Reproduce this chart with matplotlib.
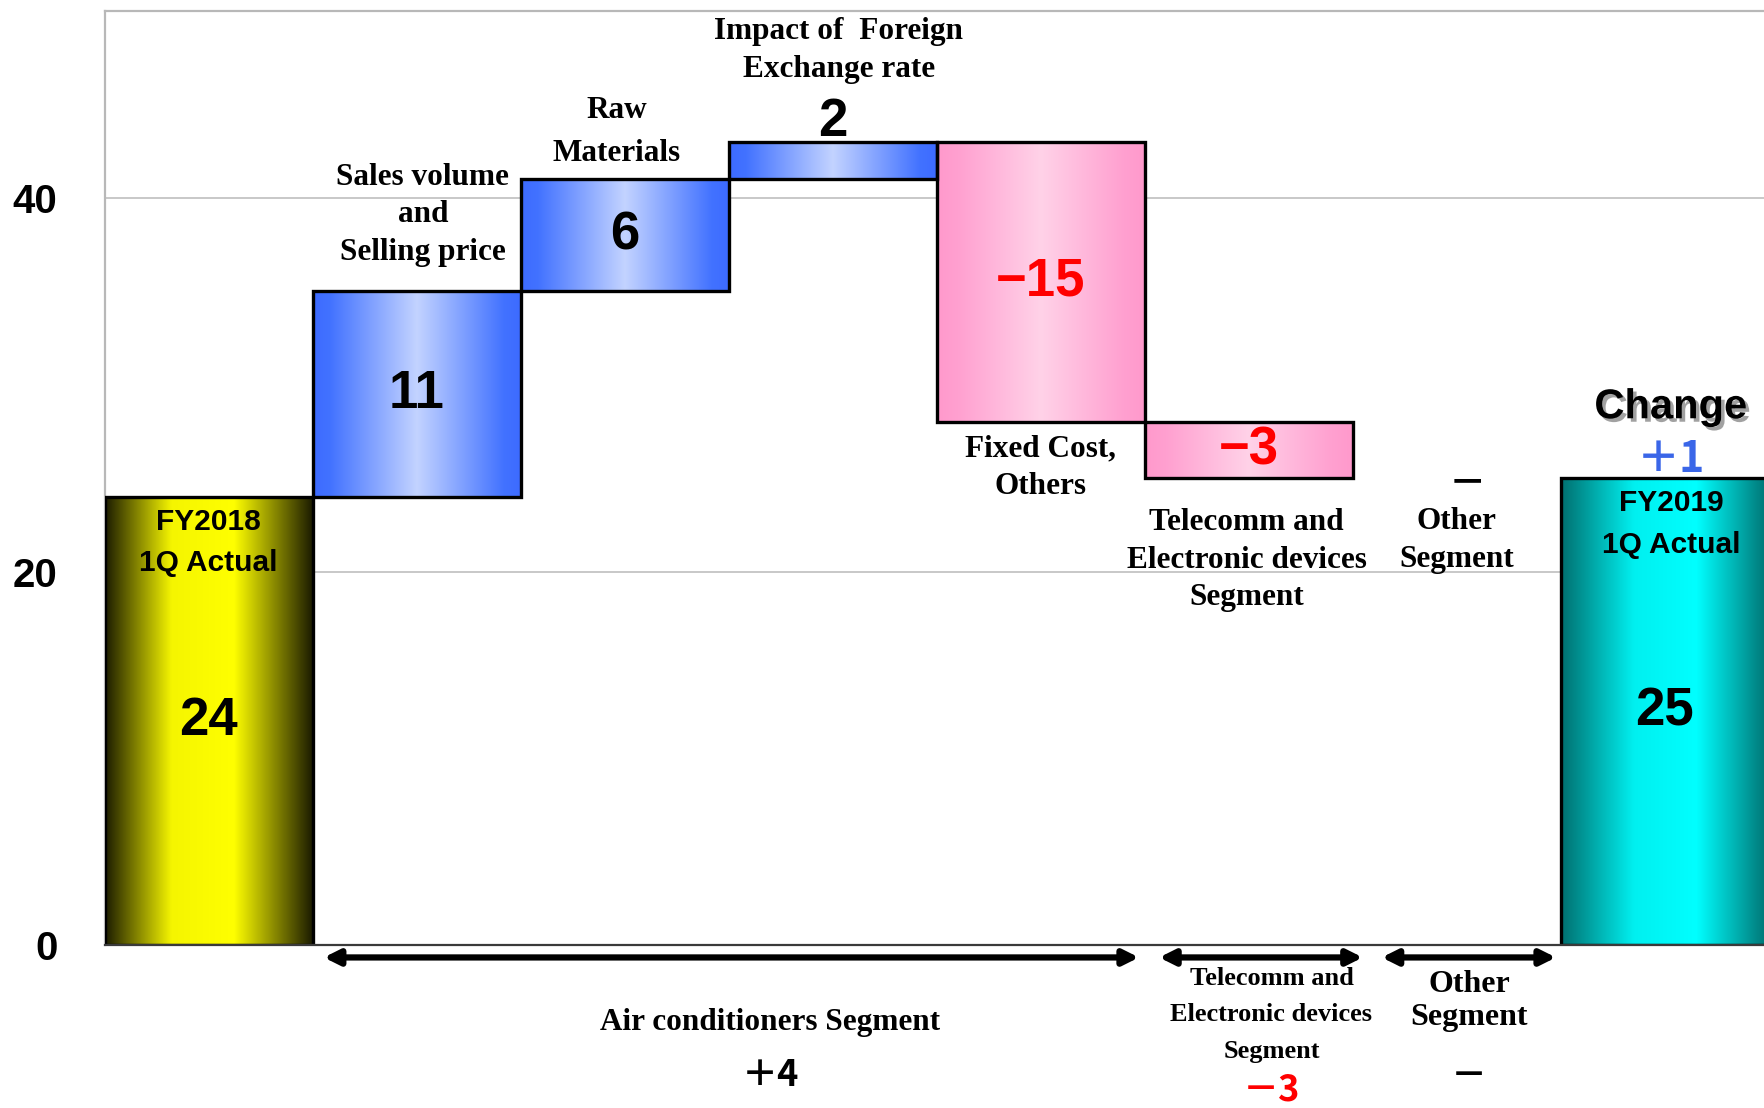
import numpy as np
import matplotlib
matplotlib.use('Agg')
import matplotlib.pyplot as plt
import matplotlib.patheffects as pe
from matplotlib.colors import LinearSegmentedColormap

# data
categories = ['FY2018\n1Q Actual', 'Sales volume\nand\nSelling price', 'Raw\nMaterials',
              'Impact of  Foreign\nExchange rate', 'Fixed Cost,\nOthers',
              'Telecomm and\nElectronic devices\nSegment', 'Other\nSegment', 'FY2019\n1Q Actual']
values = [24, 11, 6, 2, -15, -3, 0, 25]
kinds = ['total', 'step', 'step', 'step', 'step', 'step', 'step', 'total']

segments = ['Air conditioners Segment', 'Telecomm and\nElectronic devices\nSegment', 'Other\nSegment']
segment_first = [1, 5, 6]
segment_last = [4, 5, 6]
yticks = [0, 20, 40]

# layout
cat_offsets = [-33, 55, 34, 66, -33, -59, -45, -33]
cat_dx = [0, 0.03, -0.04, 0.03, 0, -0.01, 0.0, 0.03]
cat_spacing = [1.6, 1.4, 1.65, 1.4, 1.4, 1.4, 1.4, 1.6]
arrow_x0 = [0.554, 4.57, 5.64]
arrow_x1 = [4.473, 5.549, 6.478]
seg_x = [2.7, 5.11, 6.06]
seg_label_y = [-4.16, -3.73, -3.0]
seg_value_y = [-7.0, -7.75, -7.05]
seg_sizes = [22.5, 19, 23]
seg_spacing = [1.2, 1.75, 1.2]

SANS = ['Liberation Sans', 'DejaVu Sans']
SERIF = ['Liberation Serif', 'DejaVu Serif']
CJK = ['Noto Sans CJK JP', 'DejaVu Sans']

cmaps = {
    'first': LinearSegmentedColormap.from_list('y', [(0, '#1c1c00'), (0.32, '#f5f500'), (0.62, '#ffff00'), (1, '#1c1c00')]),
    'up': LinearSegmentedColormap.from_list('b', [(0, '#3d6bff'), (0.08, '#4272ff'), (0.5, '#c3d3ff'), (0.92, '#4272ff'), (1, '#3d6bff')]),
    'down': LinearSegmentedColormap.from_list('p', [(0, '#ff99cc'), (0.1, '#ffa0d0'), (0.5, '#ffd2e8'), (0.9, '#ffa0d0'), (1, '#ff99cc')]),
    'last': LinearSegmentedColormap.from_list('t', [(0, '#007070'), (0.35, '#00f0f0'), (0.65, '#00ffff'), (1, '#007070')]),
}

# waterfall geometry
bottoms, heights, styles = [], [], []
level = 0
for i, (v, k) in enumerate(zip(values, kinds)):
    if k == 'total':
        bottoms.append(0)
        heights.append(v)
        level = v
        styles.append('first' if i == 0 else 'last')
    else:
        bottoms.append(level if v >= 0 else level + v)
        heights.append(abs(v))
        level += v
        styles.append('up' if v >= 0 else 'down')
x = np.arange(len(values))
drawn = [i for i in range(len(values)) if heights[i] > 0]

fig = plt.figure(figsize=(17.64, 11.08), dpi=100)
ax = fig.add_axes([0.0593, 0.147, 0.9407, 0.843])

grad = np.linspace(0, 1, 256).reshape(1, -1)
for i in drawn:
    ax.imshow(grad, extent=[x[i] - 0.5, x[i] + 0.5, bottoms[i], bottoms[i] + heights[i]],
              aspect='auto', cmap=cmaps[styles[i]], interpolation='bicubic', zorder=2)
ax.bar(x[drawn], [heights[i] for i in drawn], bottom=[bottoms[i] for i in drawn], width=1.0,
       fill=False, edgecolor='black', linewidth=2.4, zorder=3)

ax.set_xlim(-0.5, 7.478)
ax.set_ylim(0, 50)
ax.set_yticks(yticks)
ax.set_xticks([])
ax.tick_params(axis='y', length=0, pad=34)
for lab in ax.get_yticklabels():
    lab.set_fontfamily(SANS)
    lab.set_fontweight('bold')
    lab.set_fontsize(29)
ax.grid(axis='y', color='#c4c4c4', linewidth=1.3, zorder=0)
ax.set_axisbelow(True)
for side in ['top', 'left']:
    ax.spines[side].set_color('#b8b8b8')
    ax.spines[side].set_linewidth(1.6)
ax.spines['right'].set_visible(False)
ax.spines['bottom'].set_color('#3a3a3a')
ax.spines['bottom'].set_linewidth(1.6)
ax.spines['bottom'].set_zorder(4)

# bar labels
for i, (v, k) in enumerate(zip(values, kinds)):
    b, h = bottoms[i], heights[i]
    top = b + h
    anchor = top if (k == 'total' or v >= 0) else b
    if k == 'total':
        ax.annotate(categories[i], (x[i] + cat_dx[i], anchor), xytext=(0, cat_offsets[i]),
                    textcoords='offset points', ha='center', va='center',
                    fontfamily=SANS, fontweight='bold', fontsize=21.5,
                    linespacing=cat_spacing[i], zorder=5)
    else:
        ax.annotate(categories[i], (x[i] + cat_dx[i], anchor), xytext=(0, cat_offsets[i]),
                    textcoords='offset points', ha='center', va='center',
                    fontfamily=SERIF, fontweight='bold', fontsize=22.5,
                    linespacing=cat_spacing[i], zorder=5)
    color = 'red' if v < 0 else 'black'
    if v == 0:
        ax.annotate('－', (x[i] + 0.05, anchor), xytext=(0, -3), textcoords='offset points',
                    ha='center', va='center', fontfamily=CJK, fontweight='bold',
                    fontsize=27, zorder=5)
    elif h >= 3:
        txt = f'{v}'.replace('-', '\u2212')
        ax.text(x[i], b + h / 2, txt, ha='center', va='center', color=color,
                fontfamily=SANS, fontweight='bold', fontsize=38, zorder=5)
    else:
        ax.annotate(f'{v}', (x[i], top), xytext=(0, 14), textcoords='offset points',
                    ha='center', va='center', color=color, fontfamily=SANS,
                    fontweight='bold', fontsize=38, zorder=5)

# change annotation above final bar
change = values[-1] - values[0]
ax.annotate('Change', (x[-1] + 0.03, values[-1]), xytext=(0, 51), textcoords='offset points',
            ha='center', va='center', fontfamily=SANS, fontweight='bold', fontsize=30,
            path_effects=[pe.withSimplePatchShadow(offset=(2.5, -2.5), shadow_rgbFace='#7a7a7a', alpha=0.7)],
            zorder=5)
ax.annotate(f'＋{change}' if change > 0 else f'－{abs(change)}', (x[-1] + 0.03, values[-1]),
            xytext=(0, 14), textcoords='offset points', ha='center', va='center',
            fontfamily=CJK, fontweight='bold', fontsize=31,
            color='#3a66e8' if change > 0 else 'red', zorder=5)

# segment arrows and labels under the axis
for j, seg in enumerate(segments):
    ax.annotate('', xy=(arrow_x1[j], -0.66), xytext=(arrow_x0[j], -0.66),
                arrowprops=dict(arrowstyle='<|-|>,head_length=0.9,head_width=0.45',
                                lw=4.5, color='black', shrinkA=0, shrinkB=0),
                annotation_clip=False)
    ax.text(seg_x[j], seg_label_y[j], seg, ha='center', va='center', fontfamily=SERIF,
            fontweight='bold', fontsize=seg_sizes[j], linespacing=seg_spacing[j], clip_on=False)
    total = sum(values[segment_first[j]:segment_last[j] + 1])
    if total > 0:
        txt, col = f'＋{total}', 'black'
    elif total < 0:
        txt, col = f'－{abs(total)}', 'red'
    else:
        txt, col = '－', 'black'
    ax.text(seg_x[j], seg_value_y[j], txt, ha='center', va='center', fontfamily=CJK,
            fontweight='bold', fontsize=26, color=col, clip_on=False)

fig.savefig('out.png', dpi=100)
